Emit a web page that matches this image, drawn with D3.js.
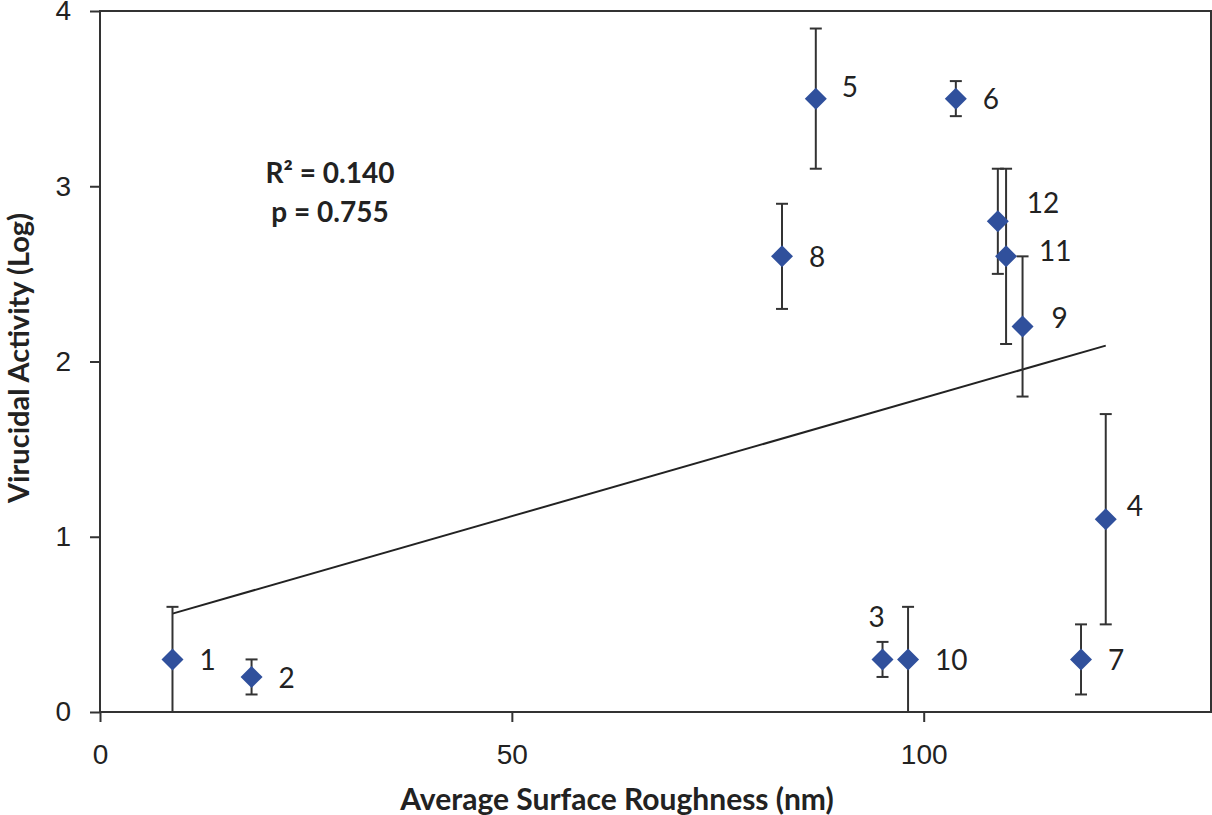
<!DOCTYPE html>
<html lang="en">
<head>
    <meta charset="UTF-8">
    <title>Virucidal Activity vs Surface Roughness</title>
    <script src="https://d3js.org/d3.v7.min.js"></script>
    <style>
        body { margin: 0; background: #ffffff; }
        svg { display: block; font-family: Lato, "Open Sans", sans-serif; }
        .axis path, .axis line { stroke: #333; stroke-width: 2px; }
        .axis text { font-size: 28px; fill: #222; }
    </style>
</head>
<body>
<div id="chart"></div>

<script>
    // sample number, roughness (nm), virucidal activity (log) and error (+/-)
    const sampleIds = ['1', '2', '3', '4', '5', '6', '7', '8', '9', '10', '11', '12'];
    const roughness = [8.8, 18.4, 95.0, 122.1, 86.9, 103.9, 119.1, 82.8, 112.0, 98.1, 110.0, 109.0];
    const activity = [0.3, 0.2, 0.3, 1.1, 3.5, 3.5, 0.3, 2.6, 2.2, 0.3, 2.6, 2.8];
    const errors = [0.3, 0.1, 0.1, 0.6, 0.4, 0.1, 0.2, 0.3, 0.4, 0.3, 0.5, 0.3];

    const xTicks = [0, 50, 100];
    const yTicks = [0, 1, 2, 3, 4];
    const statsLines = ['R² = 0.140', 'p = 0.755'];

    // label placement next to each marker (pixels), default is right of the point
    const labelNudge = {
        '3': [-14, -42],
        '4': [21, -13],
        '5': [26, -11],
        '9': [29, -8],
        '11': [33, -5],
        '12': [29, -18]
    };

    const width = 1212, height = 815;
    const margin = { top: 11, right: 0, bottom: 103, left: 100 };

    const points = sampleIds.map((id, i) => ({
        id: id, x: roughness[i], y: activity[i], err: errors[i]
    }));

    const svg = d3.select('#chart').append('svg')
        .attr('width', width)
        .attr('height', height);

    const x = d3.scaleLinear().domain([0, 135]).range([margin.left, width - margin.right]);
    const y = d3.scaleLinear().domain([0, 4]).range([height - margin.bottom, margin.top]);

    // frame
    svg.append('rect')
        .attr('x', x(0))
        .attr('y', y(4))
        .attr('width', x(135) - x(0) - 1)
        .attr('height', y(0) - y(4))
        .attr('fill', 'none')
        .attr('stroke', '#333')
        .attr('stroke-width', 2);

    svg.append('g')
        .attr('class', 'axis')
        .attr('transform', `translate(0,${y(0)})`)
        .call(d3.axisBottom(x).tickValues(xTicks).tickSize(10).tickPadding(22).tickFormat(d3.format('d')))
        .call(g => g.select('.domain').remove());

    svg.append('g')
        .attr('class', 'axis')
        .attr('transform', `translate(${x(0)},0)`)
        .call(d3.axisLeft(y).tickValues(yTicks).tickSize(10).tickPadding(19).tickFormat(d3.format('d')))
        .call(g => g.select('.domain').remove());

    // linear fit through the points
    const mx = d3.mean(points, d => d.x), my = d3.mean(points, d => d.y);
    const slope = d3.sum(points, d => (d.x - mx) * (d.y - my)) / d3.sum(points, d => (d.x - mx) ** 2);
    const intercept = my - slope * mx;
    const [xmin, xmax] = d3.extent(points, d => d.x);

    svg.append('line')
        .attr('x1', x(xmin)).attr('y1', y(intercept + slope * xmin))
        .attr('x2', x(xmax)).attr('y2', y(intercept + slope * xmax))
        .attr('stroke', '#222')
        .attr('stroke-width', 2);

    // error bars
    const bars = svg.append('g').attr('stroke', '#333').attr('stroke-width', 2);
    points.forEach(d => {
        bars.append('line')
            .attr('x1', x(d.x)).attr('x2', x(d.x))
            .attr('y1', y(d.y - d.err)).attr('y2', y(d.y + d.err));
        [d.y - d.err, d.y + d.err].forEach(v => {
            bars.append('line')
                .attr('x1', x(d.x) - 6).attr('x2', x(d.x) + 6)
                .attr('y1', y(v)).attr('y2', y(v));
        });
    });

    // diamond markers
    svg.append('g').selectAll('path')
        .data(points)
        .join('path')
        .attr('d', 'M0,-11L11,0L0,11L-11,0Z')
        .attr('transform', d => `translate(${x(d.x)},${y(d.y)})`)
        .attr('fill', '#30509c');

    svg.append('g').selectAll('text')
        .data(points)
        .join('text')
        .attr('x', d => x(d.x) + (labelNudge[d.id] ? labelNudge[d.id][0] : 27))
        .attr('y', d => y(d.y) + (labelNudge[d.id] ? labelNudge[d.id][1] : 1))
        .attr('dy', '0.35em')
        .attr('font-size', 28)
        .attr('fill', '#222')
        .text(d => d.id);

    // stats annotation
    svg.append('text')
        .attr('x', 330)
        .attr('y', 183)
        .attr('text-anchor', 'middle')
        .attr('font-size', 28)
        .attr('font-weight', 'bold')
        .attr('fill', '#222')
        .selectAll('tspan')
        .data(statsLines)
        .join('tspan')
        .attr('x', 330)
        .attr('dy', (d, i) => i === 0 ? 0 : 39)
        .text(d => d);

    // axis titles
    svg.append('text')
        .attr('x', 617)
        .attr('y', 810)
        .attr('text-anchor', 'middle')
        .attr('font-size', 30)
        .attr('font-weight', 'bold')
        .attr('fill', '#222')
        .text('Average Surface Roughness (nm)');

    svg.append('text')
        .attr('transform', 'translate(29,358) rotate(-90)')
        .attr('text-anchor', 'middle')
        .attr('font-size', 29)
        .attr('font-weight', 'bold')
        .attr('fill', '#222')
        .text('Virucidal Activity (Log)');
</script>
</body>
</html>
